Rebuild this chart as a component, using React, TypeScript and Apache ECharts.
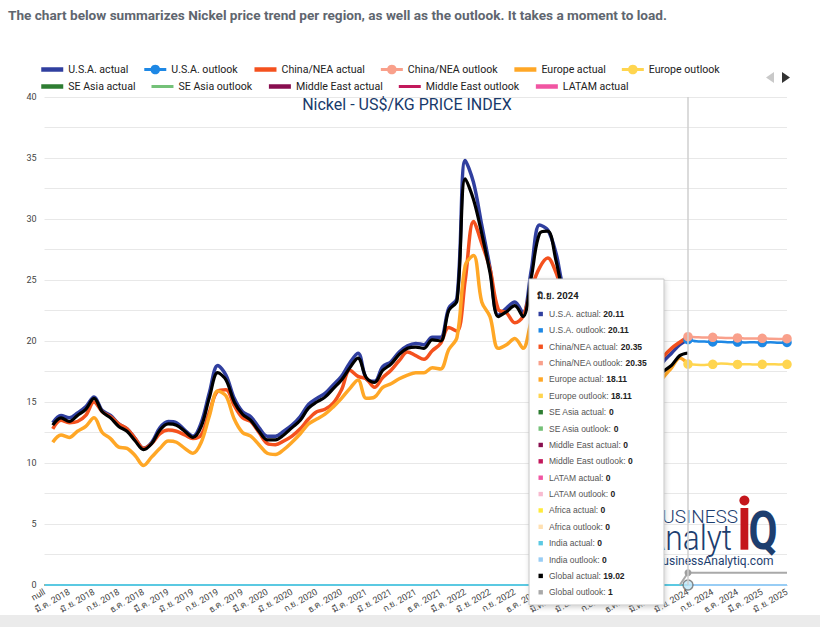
import { useEffect, useRef } from 'react';
import * as echarts from 'echarts';

// ---------- DATA ----------
const categories = [
  'null',
  'ม.ค. 2018', 'ก.พ. 2018', 'มี.ค. 2018', 'เม.ย. 2018', 'พ.ค. 2018', 'มิ.ย. 2018', 'ก.ค. 2018', 'ส.ค. 2018', 'ก.ย. 2018', 'ต.ค. 2018', 'พ.ย. 2018', 'ธ.ค. 2018',
  'ม.ค. 2019', 'ก.พ. 2019', 'มี.ค. 2019', 'เม.ย. 2019', 'พ.ค. 2019', 'มิ.ย. 2019', 'ก.ค. 2019', 'ส.ค. 2019', 'ก.ย. 2019', 'ต.ค. 2019', 'พ.ย. 2019', 'ธ.ค. 2019',
  'ม.ค. 2020', 'ก.พ. 2020', 'มี.ค. 2020', 'เม.ย. 2020', 'พ.ค. 2020', 'มิ.ย. 2020', 'ก.ค. 2020', 'ส.ค. 2020', 'ก.ย. 2020', 'ต.ค. 2020', 'พ.ย. 2020', 'ธ.ค. 2020',
  'ม.ค. 2021', 'ก.พ. 2021', 'มี.ค. 2021', 'เม.ย. 2021', 'พ.ค. 2021', 'มิ.ย. 2021', 'ก.ค. 2021', 'ส.ค. 2021', 'ก.ย. 2021', 'ต.ค. 2021', 'พ.ย. 2021', 'ธ.ค. 2021',
  'ม.ค. 2022', 'ก.พ. 2022', 'มี.ค. 2022', 'เม.ย. 2022', 'พ.ค. 2022', 'มิ.ย. 2022', 'ก.ค. 2022', 'ส.ค. 2022', 'ก.ย. 2022', 'ต.ค. 2022', 'พ.ย. 2022', 'ธ.ค. 2022',
  'ม.ค. 2023', 'ก.พ. 2023', 'มี.ค. 2023', 'เม.ย. 2023', 'พ.ค. 2023', 'มิ.ย. 2023', 'ก.ค. 2023', 'ส.ค. 2023', 'ก.ย. 2023', 'ต.ค. 2023', 'พ.ย. 2023', 'ธ.ค. 2023',
  'ม.ค. 2024', 'ก.พ. 2024', 'มี.ค. 2024', 'เม.ย. 2024', 'พ.ค. 2024', 'มิ.ย. 2024', 'ก.ค. 2024', 'ส.ค. 2024', 'ก.ย. 2024', 'ต.ค. 2024', 'พ.ย. 2024', 'ธ.ค. 2024',
  'ม.ค. 2025', 'ก.พ. 2025', 'มี.ค. 2025', 'เม.ย. 2025', 'พ.ค. 2025', 'มิ.ย. 2025',
];

// Actual values, Jan 2018 .. Jun 2024
const usaActual = [
  13.3, 13.9, 13.7, 14.1, 14.6, 15.4, 14.3, 13.9, 13.2, 12.8, 12.0, 11.2,
  11.7, 12.9, 13.4, 13.3, 12.7, 12.2, 13.3, 15.8, 18.0, 17.2, 15.3, 14.2,
  13.8, 12.9, 12.2, 12.2, 12.6, 13.1, 13.8, 14.8, 15.3, 15.7, 16.4, 17.1,
  18.2, 19.0, 16.9, 16.7, 17.9, 18.3, 19.1, 19.6, 19.8, 19.7, 20.3, 20.3,
  22.7, 23.5, 34.8, 33.0, 29.5, 26.0, 22.1, 22.7, 23.2, 22.3, 25.8, 29.5,
  29.1, 27.2, 24.2, 23.8, 22.4, 21.6, 21.4, 20.6, 19.8, 18.8, 17.6, 17.0,
  16.8, 17.2, 18.3, 19.0, 19.7, 20.11,
];
const chinaActual = [
  12.8, 13.5, 13.3, 13.4, 13.9, 15.0, 14.2, 13.8, 13.2, 12.8, 12.0, 11.2,
  11.6, 12.4, 12.7, 12.6, 12.3, 12.0, 12.3, 14.2, 15.9, 16.0, 14.7, 13.7,
  13.4, 12.5, 11.6, 11.5, 11.8, 12.2, 12.8, 13.6, 14.2, 14.4, 14.9, 16.0,
  17.6, 17.1, 16.9, 16.2, 17.0, 17.6, 18.4, 19.1, 18.8, 18.5, 19.2, 19.8,
  21.1, 20.8, 25.0, 29.8, 28.0, 25.9, 22.6, 22.3, 21.5, 22.0, 24.3, 26.0,
  26.8, 25.6, 23.6, 23.2, 22.2, 21.4, 21.2, 20.6, 20.0, 19.2, 18.3, 17.7,
  17.5, 17.8, 18.7, 19.4, 19.9, 20.35,
];
const europeActual = [
  11.7, 12.3, 12.1, 12.6, 13.0, 13.7, 12.5, 12.0, 11.3, 11.2, 10.6, 9.8,
  10.5, 11.2, 11.8, 11.7, 11.2, 10.8, 11.7, 13.9, 15.9, 15.5, 13.6, 12.5,
  12.2, 11.5, 10.8, 10.7, 11.1, 11.7, 12.4, 13.2, 13.6, 14.0, 14.6, 15.3,
  16.1, 16.8, 15.3, 15.4, 16.2, 16.5, 16.9, 17.2, 17.4, 17.4, 17.8, 17.7,
  19.3, 20.3, 26.2, 27.0, 23.2, 22.0, 19.4, 19.7, 20.2, 19.4, 21.6, 23.4,
  24.4, 23.5, 21.6, 21.2, 20.0, 19.2, 19.0, 18.4, 17.8, 17.0, 16.2, 15.8,
  15.6, 15.9, 17.0, 17.8, 18.6, 18.11,
];
const globalActual = [
  13.1, 13.7, 13.4, 13.9, 14.4, 15.3, 14.2, 13.7, 13.0, 12.6, 11.8, 11.1,
  11.6, 12.7, 13.2, 13.1, 12.6, 12.1, 13.0, 15.4, 17.4, 16.8, 15.0, 14.0,
  13.5, 12.6, 11.9, 11.9, 12.3, 12.9, 13.5, 14.5, 15.0, 15.4, 16.1, 16.8,
  17.8, 18.6, 17.0, 16.6, 17.6, 18.1, 18.9, 19.4, 19.5, 19.4, 20.1, 20.0,
  22.5, 23.3, 33.3, 31.6, 28.8, 25.6, 22.0, 22.4, 22.9, 22.0, 25.2, 28.8,
  29.0, 26.6, 23.8, 23.3, 22.0, 21.1, 20.9, 20.2, 19.4, 18.4, 17.2, 16.6,
  16.4, 16.8, 17.5, 18.0, 18.8, 19.02,
];

// Outlook values, Jun 2024 .. Jun 2025
const usaOutlook = [20.11, 19.98, 19.95, 19.92, 19.94, 19.9, 19.91, 19.88, 19.9, 19.87, 19.89, 19.86, 19.88];
const chinaOutlook = [20.35, 20.31, 20.28, 20.3, 20.26, 20.24, 20.25, 20.21, 20.2, 20.22, 20.18, 20.17, 20.19];
const europeOutlook = [18.11, 18.06, 18.04, 18.09, 18.15, 18.12, 18.08, 18.1, 18.07, 18.09, 18.1, 18.08, 18.09];
// Global outlook, May 2024 .. Jun 2025
const globalOutlook = [0, 1, 1, 1, 1, 1, 1, 1, 1, 1, 1, 1, 1, 1];

// Regions reported at zero: 'null' .. Jun 2024, and Jun 2024 .. Jun 2025
const regionZeroActual = [
  0,
  0, 0, 0, 0, 0, 0, 0, 0, 0, 0, 0, 0,
  0, 0, 0, 0, 0, 0, 0, 0, 0, 0, 0, 0,
  0, 0, 0, 0, 0, 0, 0, 0, 0, 0, 0, 0,
  0, 0, 0, 0, 0, 0, 0, 0, 0, 0, 0, 0,
  0, 0, 0, 0, 0, 0, 0, 0, 0, 0, 0, 0,
  0, 0, 0, 0, 0, 0, 0, 0, 0, 0, 0, 0,
  0, 0, 0, 0, 0, 0,
];
const regionZeroOutlook = [0, 0, 0, 0, 0, 0, 0, 0, 0, 0, 0, 0, 0];

const FOCUS_INDEX = 78; // มิ.ย. 2024

const FONT = 'Roboto, "Noto Sans", sans-serif';
const TIP_FONT = '"Liberation Sans", Arial, sans-serif';

const padActual = (vals: number[]) => {
  const out: (number | null)[] = [null, ...vals];
  while (out.length < categories.length) out.push(null);
  return out;
};
const padFrom = (start: number, vals: any[]) => {
  const out: any[] = [];
  for (let i = 0; i < start; i++) out.push(null);
  out.push(...vals);
  while (out.length < categories.length) out.push(null);
  return out;
};

const C = {
  usaA: '#303f9f', usaO: '#1e88e5',
  chinaA: '#f4511e', chinaO: '#f9a08b',
  euA: '#ffa726', euO: '#ffd54f',
  seA: '#2e7d32', seO: '#74c178',
  meA: '#880e4f', meO: '#c2185b',
  laA: '#f155a2', laO: '#f8bbd0',
  afA: '#ffeb3b', afO: '#ffe0b2',
  inA: '#5bc9e2', inO: '#98cdf5',
  glA: '#000000', glO: '#a9a9a9',
};

export default function App() {
  const ref = useRef<HTMLDivElement>(null);

  useEffect(() => {
    if (!ref.current) return;
    const chart = echarts.init(ref.current, undefined, { renderer: 'svg' });

    const actualLine = (name: string, color: string, vals: number[]) => ({
      name, type: 'line', data: padActual(vals), smooth: 0.35, symbol: 'none',
      lineStyle: { width: 3.5, color }, itemStyle: { color }, z: 2,
    });
    const outlookLine = (name: string, color: string, vals: number[]) => ({
      name, type: 'line', data: padFrom(FOCUS_INDEX, vals), smooth: 0.3, symbol: 'circle',
      symbolSize: 9.5, showSymbol: true, lineStyle: { width: 2.5, color }, itemStyle: { color }, z: 2,
    });
    const zeroActualLine = (name: string, color: string) => ({
      name, type: 'line', data: padFrom(0, regionZeroActual), symbol: 'none',
      lineStyle: { width: 2, color }, itemStyle: { color }, z: 2,
    });
    const zeroOutlookLine = (name: string, color: string) => ({
      name, type: 'line', data: padFrom(FOCUS_INDEX, regionZeroOutlook), symbol: 'none',
      lineStyle: { width: 2, color }, itemStyle: { color }, z: 2,
    });

    const globalOutlookData = padFrom(FOCUS_INDEX - 1, globalOutlook.map((v, i) =>
      i === 1 ? { value: v, symbol: 'circle', symbolSize: 7, itemStyle: { color: '#9e9e9e' } } : v));

    const series: any[] = [
      actualLine('U.S.A. actual', C.usaA, usaActual),
      outlookLine('U.S.A. outlook', C.usaO, usaOutlook),
      actualLine('China/NEA actual', C.chinaA, chinaActual),
      outlookLine('China/NEA outlook', C.chinaO, chinaOutlook),
      actualLine('Europe actual', C.euA, europeActual),
      outlookLine('Europe outlook', C.euO, europeOutlook),
      zeroActualLine('SE Asia actual', C.seA),
      zeroOutlookLine('SE Asia outlook', C.seO),
      zeroActualLine('Middle East actual', C.meA),
      zeroOutlookLine('Middle East outlook', C.meO),
      zeroActualLine('LATAM actual', C.laA),
      zeroOutlookLine('LATAM outlook', C.laO),
      zeroActualLine('Africa actual', C.afA),
      zeroOutlookLine('Africa outlook', C.afO),
      zeroActualLine('India actual', C.inA),
      zeroOutlookLine('India outlook', C.inO),
      { ...actualLine('Global actual', C.glA, globalActual), lineStyle: { width: 3.2, color: C.glA } },
      {
        name: 'Global outlook', type: 'line', data: globalOutlookData, symbol: 'none', showSymbol: true,
        lineStyle: { width: 2, color: C.glO }, itemStyle: { color: C.glO }, z: 2,
        markLine: {
          silent: true, symbol: 'none', label: { show: false },
          lineStyle: { color: '#cfcfcf', width: 1.5, type: 'solid' },
          data: [{ xAxis: categories[FOCUS_INDEX] }],
        },
      },
      {
        name: 'focus', type: 'scatter', data: [[categories[FOCUS_INDEX], regionZeroOutlook[0]]],
        symbolSize: 10, itemStyle: { color: '#bfe6f7', borderColor: '#6f6f6f', borderWidth: 1.5 }, z: 4,
      },
    ];

    const legendItem = (name: string, withDot: boolean, width: number) => ({
      name,
      lineStyle: { width },
      itemStyle: withDot ? {} : { opacity: 0 },
    });
    const legendCommon = {
      orient: 'horizontal', left: 39, itemWidth: 22, itemHeight: 12, itemGap: 14.5, padding: 0,
      selectedMode: false,
      textStyle: { fontSize: 10.6, color: '#222', fontFamily: FONT },
    };

    // Tooltip rows from data at Jun 2024
    const last = (a: number[]) => a[a.length - 1];
    const tipRows = [
      ['U.S.A. actual', C.usaA, last(usaActual)],
      ['U.S.A. outlook', C.usaO, usaOutlook[0]],
      ['China/NEA actual', C.chinaA, last(chinaActual)],
      ['China/NEA outlook', C.chinaO, chinaOutlook[0]],
      ['Europe actual', C.euA, last(europeActual)],
      ['Europe outlook', C.euO, europeOutlook[0]],
      ['SE Asia actual', C.seA, regionZeroActual[FOCUS_INDEX]],
      ['SE Asia outlook', C.seO, regionZeroOutlook[0]],
      ['Middle East actual', C.meA, regionZeroActual[FOCUS_INDEX]],
      ['Middle East outlook', C.meO, regionZeroOutlook[0]],
      ['LATAM actual', C.laA, regionZeroActual[FOCUS_INDEX]],
      ['LATAM outlook', C.laO, regionZeroOutlook[0]],
      ['Africa actual', C.afA, regionZeroActual[FOCUS_INDEX]],
      ['Africa outlook', C.afO, regionZeroOutlook[0]],
      ['India actual', C.inA, regionZeroActual[FOCUS_INDEX]],
      ['India outlook', C.inO, regionZeroOutlook[0]],
      ['Global actual', C.glA, last(globalActual)],
      ['Global outlook', C.glO, globalOutlook[1]],
    ] as [string, string, number][];

    const TZ = 100;
    const tipX = 529, tipY = 279, tipW = 135, tipH = 326;
    const tipChildren: any[] = [
      {
        type: 'rect', z: TZ, shape: { x: tipX, y: tipY, width: tipW, height: tipH },
        style: { fill: '#fff', stroke: '#c6c6c6', lineWidth: 1, shadowBlur: 5, shadowColor: 'rgba(0,0,0,0.18)', shadowOffsetX: 1, shadowOffsetY: 2 },
      },
      {
        type: 'text', z: TZ + 1, x: 537, y: 295,
        style: { text: categories[FOCUS_INDEX], fill: '#222', fontSize: 9.5, fontWeight: 'bold', fontFamily: FONT, verticalAlign: 'middle' },
      },
    ];
    tipRows.forEach(([name, color, val], k) => {
      const y = 314 + k * 16.37;
      tipChildren.push({ type: 'rect', z: TZ + 1, shape: { x: 538.5, y: y - 2.2, width: 4.4, height: 4.4 }, style: { fill: color } });
      tipChildren.push({
        type: 'text', z: TZ + 1, x: 549, y,
        style: {
          text: `{n|${name}: }{v|${val}}`, verticalAlign: 'middle',
          rich: {
            n: { fill: '#555', fontSize: 8.5, fontFamily: TIP_FONT },
            v: { fill: '#222', fontSize: 8.5, fontFamily: TIP_FONT, fontWeight: 'bold' },
          },
        },
      });
    });

    const navy = '#1d3e6f';
    const logo = {
      type: 'group', silent: true,
      children: [
        { type: 'text', z: 1, x: 738, y: 516.3, style: { text: 'BUSINESS', fill: navy, fontSize: 19, fontWeight: 300, fontFamily: FONT, align: 'right', verticalAlign: 'middle' } },
        { type: 'text', z: 1, x: 732, y: 537.5, scaleX: 0.88, style: { text: 'Analyt', fill: navy, fontSize: 36, fontWeight: 300, fontFamily: FONT, align: 'right', verticalAlign: 'middle' } },
        { type: 'rect', z: 1, shape: { x: 740.5, y: 508, width: 7.8, height: 41.7 }, style: { fill: '#c4161c' } },
        { type: 'circle', z: 1, shape: { cx: 744.4, cy: 500.5, r: 5 }, style: { fill: '#c4161c' } },
        { type: 'text', z: 1, x: 748.5, y: 531, scaleX: 0.78, style: { text: 'Q', fill: navy, fontSize: 54, fontWeight: 'bold', fontFamily: FONT, align: 'left', verticalAlign: 'middle' } },
        { type: 'text', z: 1, x: 773.5, y: 560.8, style: { text: 'www.BusinessAnalytiq.com', fill: navy, fontSize: 12, fontFamily: FONT, align: 'right', verticalAlign: 'middle' } },
      ],
    };

    const option: any = {
      animation: false,
      backgroundColor: '#ffffff',
      textStyle: { fontFamily: FONT },
      grid: { left: 44.5, right: 33, top: 97, bottom: 42, containLabel: false },
      legend: [
        {
          ...legendCommon, top: 64,
          data: [
            legendItem('U.S.A. actual', false, 4.5),
            legendItem('U.S.A. outlook', true, 3),
            legendItem('China/NEA actual', false, 4.5),
            legendItem('China/NEA outlook', true, 3),
            legendItem('Europe actual', false, 4.5),
            legendItem('Europe outlook', true, 3),
          ],
        },
        {
          ...legendCommon, top: 81,
          data: [
            legendItem('SE Asia actual', false, 4.5),
            legendItem('SE Asia outlook', false, 3),
            legendItem('Middle East actual', false, 4.5),
            legendItem('Middle East outlook', false, 3),
            legendItem('LATAM actual', false, 4.5),
          ],
        },
      ],
      xAxis: {
        type: 'category', data: categories, boundaryGap: false,
        axisLine: { show: true, lineStyle: { color: '#b8b8b8', width: 1 } },
        axisTick: { show: false },
        axisLabel: { interval: 2, rotate: 30, fontSize: 9, color: '#444', margin: 6, fontFamily: FONT },
        splitLine: { show: false },
      },
      yAxis: {
        type: 'value', min: 0, max: 40, interval: 2.5,
        axisLine: { show: false }, axisTick: { show: false },
        axisLabel: { fontSize: 9, color: '#444', margin: 8, fontFamily: FONT, formatter: (v: number) => (v % 5 === 0 ? String(v) : '') },
        splitLine: { lineStyle: { color: '#e8e8e8', width: 1 } },
      },
      series,
      graphic: [
        {
          type: 'text', x: 8, y: 15, z: 10,
          style: { text: 'The chart below summarizes Nickel price trend per region, as well as the outlook. It takes a moment to load.', fill: '#60666f', fontSize: 13.6, fontWeight: 'bold', fontFamily: FONT, verticalAlign: 'middle' },
        },
        {
          type: 'text', x: 407, y: 104, z: 10,
          style: { text: 'Nickel - US$/KG PRICE INDEX', fill: '#183a6b', fontSize: 16, fontFamily: FONT, align: 'center', verticalAlign: 'middle' },
        },
        { type: 'polygon', z: 10, shape: { points: [[774, 72], [774, 83], [766, 77.5]] }, style: { fill: '#c9c9c9' } },
        { type: 'polygon', z: 10, shape: { points: [[782, 72], [782, 83], [790, 77.5]] }, style: { fill: '#333' } },
        logo,
        { type: 'group', children: tipChildren },
        { type: 'rect', z: 10, shape: { x: 0, y: 615, width: 820, height: 12 }, style: { fill: '#ebebeb' } },
      ],
    };

    chart.setOption(option);
    return () => chart.dispose();
  }, []);

  return (
    <div
      ref={ref}
      style={{ position: 'absolute', left: 0, top: 0, width: 820, height: 627, background: '#fff' }}
    />
  );
}
